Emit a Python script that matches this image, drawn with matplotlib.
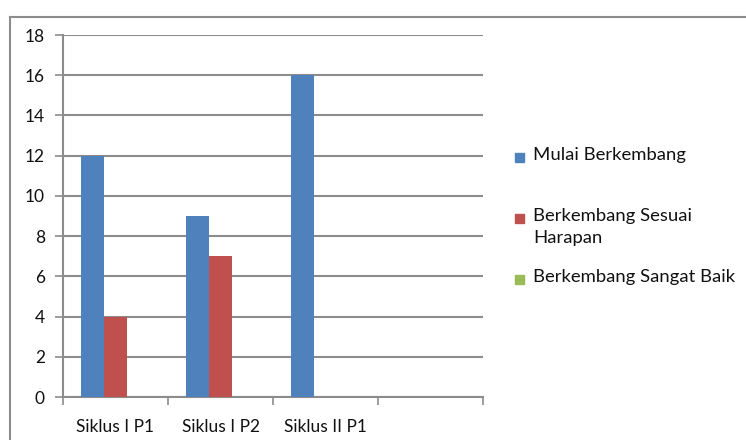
import matplotlib.pyplot as plt
from matplotlib.patches import Rectangle
import numpy as np

plt.rcParams['font.family'] = ['Lato', 'DejaVu Sans']

categories = ["Siklus I P1", "Siklus I P2", "Siklus II P1", ""]
series = ["Mulai Berkembang", "Berkembang Sesuai\nHarapan", "Berkembang Sangat Baik"]
mulai = [12, 9, 16, 0]
sesuai = [4, 7, 0, 0]
sangat_baik = [0, 0, 0, 0]
colors = ["#4F81BD", "#C0504D", "#9BBB59"]

W, H = 746, 440
fig = plt.figure(figsize=(W / 100, H / 100), dpi=100)

# outer chart border (runs off the right and bottom edge)
fig.add_artist(plt.Line2D([10 / W, 10 / W], [0, 1 - 17 / H], color="#8c8c8c", lw=1.5))
fig.add_artist(plt.Line2D([10 / W, 1], [1 - 17 / H, 1 - 17 / H], color="#8c8c8c", lw=1.5))

ax = fig.add_axes([63 / W, 1 - 397 / H, 420 / W, 362 / H])

x = np.arange(len(categories))
bw = 1 / 4.5
for i, vals in enumerate([mulai, sesuai, sangat_baik]):
    ax.bar(x + (i - 1) * bw, vals, bw, color=colors[i], zorder=3)

ax.set_xlim(-0.5, len(categories) - 0.5)
ax.set_ylim(0, 18)
ax.set_yticks(range(0, 19, 2))
ax.grid(axis="y", color="#8c8c8c", lw=1.5, zorder=0)

ax.set_xticks(x)
ax.set_xticklabels(categories, fontsize=12.5, color="#111111")
ax.set_xticks(np.arange(-0.5, len(categories)), minor=True)
ax.tick_params(axis="x", which="major", length=0, pad=16)
ax.tick_params(axis="x", which="minor", length=6, width=1.2, color="#8c8c8c", direction="out")
ax.tick_params(axis="y", length=6, width=1.2, color="#8c8c8c", labelsize=12.5, labelcolor="#111111", pad=7)

for s in ["top", "right"]:
    ax.spines[s].set_visible(False)
for s in ["left", "bottom"]:
    ax.spines[s].set_color("#8c8c8c")
    ax.spines[s].set_linewidth(1.5)

# legend, drawn by hand to follow the Excel spacing
leg_y = [157, 218, 279]
for name, c, yy in zip(series, colors, leg_y):
    fig.add_artist(Rectangle((515 / W, 1 - (yy + 5) / H), 9 / W, 9 / H, color=c))
    fig.text(533 / W, 1 - (yy - 10) / H, name, fontsize=13.3, color="#111111",
             va="top", ha="left", linespacing=1.5)

fig.savefig("out.png", dpi=100)
